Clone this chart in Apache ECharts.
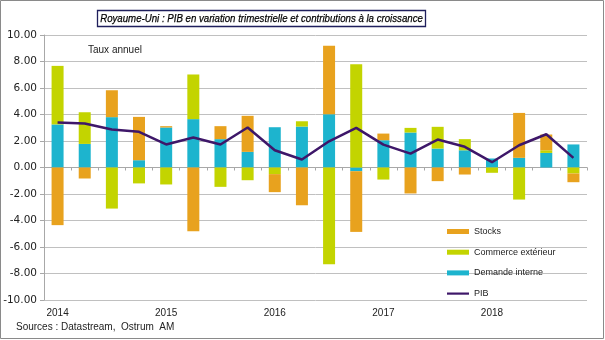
<!DOCTYPE html>
<html><head><meta charset="utf-8">
<script src="https://cdn.jsdelivr.net/npm/echarts@6/dist/echarts.min.js"></script>
<style>html,body{margin:0;padding:0;background:#fff}#c{width:605px;height:340px}</style>
</head><body><div id="c"></div>
<script>
const quarters = ['2014T1','2014T2','2014T3','2014T4','2015T1','2015T2','2015T3','2015T4','2016T1','2016T2','2016T3','2016T4','2017T1','2017T2','2017T3','2017T4','2018T1','2018T2','2018T3','2018T4'];
const demande  = [3.25, 1.78, 3.80, 0.55, 3.02, 3.65, 2.14, 1.18, 3.04, 3.09, 4.02, -0.28, 2.06, 2.64, 1.43, 1.30, 0.68, 0.73, 1.10, 1.74];
const commerce = [4.42, 2.39, -3.10, -1.20, -1.28, 3.37, -1.46, -0.96, -0.50, 0.40, -7.30, 7.80, -0.91, 0.35, 1.64, 0.84, -0.40, -2.42, 0.20, -0.45];
const stocks   = [-4.35, -0.83, 2.03, 3.27, 0.10, -4.81, 0.98, 2.72, -1.36, -2.85, 5.16, -4.58, 0.50, -1.96, -1.03, -0.53, 0.00, 3.39, 1.19, -0.66];
const pib      = [3.40, 3.32, 2.87, 2.69, 1.74, 2.26, 1.74, 3.02, 1.30, 0.60, 1.98, 2.99, 1.73, 1.05, 2.11, 1.56, 0.40, 1.68, 2.51, 0.73];
const yTicks = { min: -10, max: 10, interval: 2 };
const titleText = 'Royaume-Uni : PIB en variation trimestrielle et contributions à la croissance';

const chart = echarts.init(document.getElementById('c'));
const gridCol = '#c0c0c0';
chart.setOption({
  animation: false,
  backgroundColor: '#fff',
  grid: { left: 44, right: 18, top: 35, bottom: 40 },
  legend: {
    orient: 'vertical', left: 447, top: 227, padding: 0,
    itemWidth: 22, itemHeight: 5, itemGap: 11.7,
    textStyle: { fontFamily: 'Liberation Sans, Arial', fontSize: 9, color: '#222' },
    data: [
      { name: 'Stocks', icon: 'rect' },
      { name: 'Commerce extérieur', icon: 'rect' },
      { name: 'Demande interne', icon: 'rect' },
      { name: 'PIB', icon: 'path://M0,0H22V2.2H0Z' }
    ]
  },
  xAxis: [{
    type: 'category', data: quarters, boundaryGap: true,
    axisLine: { onZero: true, lineStyle: { color: '#a8a8a8' } },
    axisTick: { show: true, interval: 0, length: 3, lineStyle: { color: '#a8a8a8' } },
    axisLabel: { show: false }
  }, {
    type: 'category', data: quarters, position: 'bottom', boundaryGap: true,
    axisLine: { show: false, onZero: false }, axisTick: { show: false },
    axisLabel: {
      interval: (i) => i % 4 === 0, margin: 8,
      formatter: (v) => v.slice(0, 4),
      fontFamily: 'Liberation Sans, Arial', fontSize: 10, color: '#222'
    }
  }],
  yAxis: {
    type: 'value', min: yTicks.min, max: yTicks.max, interval: yTicks.interval,
    axisLine: { show: true, lineStyle: { color: '#a8a8a8' } },
    axisTick: { show: true, length: 4, lineStyle: { color: '#a8a8a8' } },
    splitLine: { lineStyle: { color: gridCol, width: 1 } },
    axisLabel: { formatter: (v) => v.toFixed(2), margin: 7, fontFamily: 'DejaVu Sans, Verdana', fontSize: 10.5, color: '#222' }
  },
  series: [
    { name: 'Demande interne', type: 'bar', stack: 'a', data: demande, barWidth: 12, itemStyle: { color: '#1db4ce' } },
    { name: 'Commerce extérieur', type: 'bar', stack: 'a', data: commerce, barWidth: 12, itemStyle: { color: '#c3d400' } },
    { name: 'Stocks', type: 'bar', stack: 'a', data: stocks, barWidth: 12, itemStyle: { color: '#e8a21e' } },
    { name: 'PIB', type: 'line', data: pib, symbol: 'none', z: 5, lineStyle: { color: '#3e1769', width: 2.5 }, itemStyle: { color: '#3e1769' } }
  ],
  graphic: [
    { type: 'rect', shape: { x: 0.5, y: 0.5, width: 603, height: 338 }, style: { fill: 'none', stroke: '#8a8a8a', lineWidth: 1 }, z: 100 },
    { type: 'rect', shape: { x: 97.5, y: 10.5, width: 328, height: 16 }, style: { fill: '#fff', stroke: '#1f1f5c', lineWidth: 1.3 }, z: 10 },
    { type: 'text', x: 261.5, y: 18.5, scaleX: 0.84, z: 11,
      style: { text: titleText, align: 'center', verticalAlign: 'middle', font: 'italic 11.5px "Liberation Sans", Arial', fill: '#000', stroke: '#000', lineWidth: 0.25 } },
    { type: 'text', left: 88, top: 45, style: { text: 'Taux annuel', font: '10px "Liberation Sans", Arial', fill: '#222' } },
    { type: 'text', left: 16, top: 322, style: { text: 'Sources : Datastream,  Ostrum  AM', font: '10px "Liberation Sans", Arial', fill: '#222' } }
  ]
});
</script></body></html>
